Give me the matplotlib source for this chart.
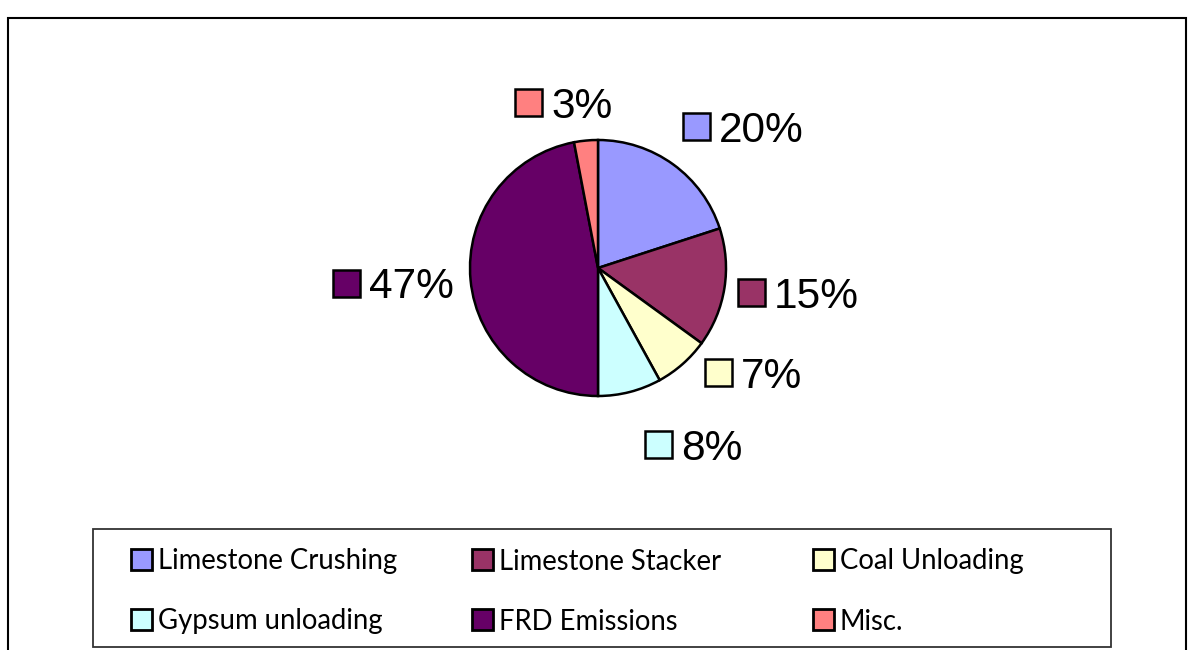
import matplotlib.pyplot as plt
from matplotlib.patches import Rectangle

# Dust emission shares by source
sources = ['Limestone Crushing', 'Limestone Stacker', 'Coal Unloading',
           'Gypsum unloading', 'FRD Emissions', 'Misc.']
shares = [20, 15, 7, 8, 47, 3]
colors = ['#9999FF', '#993366', '#FFFFCC', '#CCFFFF', '#660066', '#FF8080']

# where each percentage tag sits (left edge of its swatch, centre line), in pixels
tag_x = [683, 738, 705, 645, 333, 515]
tag_y = [126, 292, 372, 444, 283, 102]

W, H = 1188, 650
fig = plt.figure(figsize=(W / 100, H / 100), dpi=100)
ax = fig.add_axes([0, 0, 1, 1])

wedges, _ = ax.pie(shares, colors=colors, startangle=90, counterclock=False,
                   center=(598, H - 268), radius=128,
                   wedgeprops=dict(edgecolor='black', linewidth=1.8))
ax.set_xlim(0, W)
ax.set_ylim(0, H)
ax.set_aspect('auto')
ax.axis('off')

# percentage tags with a colour swatch in front
sw = 27
for val, col, x, y in zip(shares, colors, tag_x, tag_y):
    y = H - y
    ax.add_patch(Rectangle((x, y - sw / 2), sw, sw, facecolor=col,
                           edgecolor='black', linewidth=1.8))
    ax.text(x + sw + 9, y, f'{val}%', fontsize=30.5, family='Liberation Sans',
            va='center_baseline', ha='left')

# outer chart frame (bottom edge runs off the page)
ax.plot([8, 8, 1186, 1186], [-5, H - 18, H - 18, -5], color='black',
        linewidth=1.5, solid_joinstyle='miter')

# legend box
ax.add_patch(Rectangle((93, H - 647), 1111 - 93, 647 - 529, facecolor='none',
                       edgecolor='#333333', linewidth=1.3))
col_x = [131, 472, 813]
row_y = [559, 619]
ls = 21
for i, (name, col) in enumerate(zip(sources, colors)):
    x = col_x[i % 3]
    y = H - row_y[i // 3]
    ax.add_patch(Rectangle((x, y - ls / 2), ls, ls, facecolor=col,
                           edgecolor='black', linewidth=2))
    ax.text(x + ls + 6, y, name, fontsize=19.8, family='Lato',
            va='center_baseline', ha='left')

fig.savefig('out.png', dpi=100)
